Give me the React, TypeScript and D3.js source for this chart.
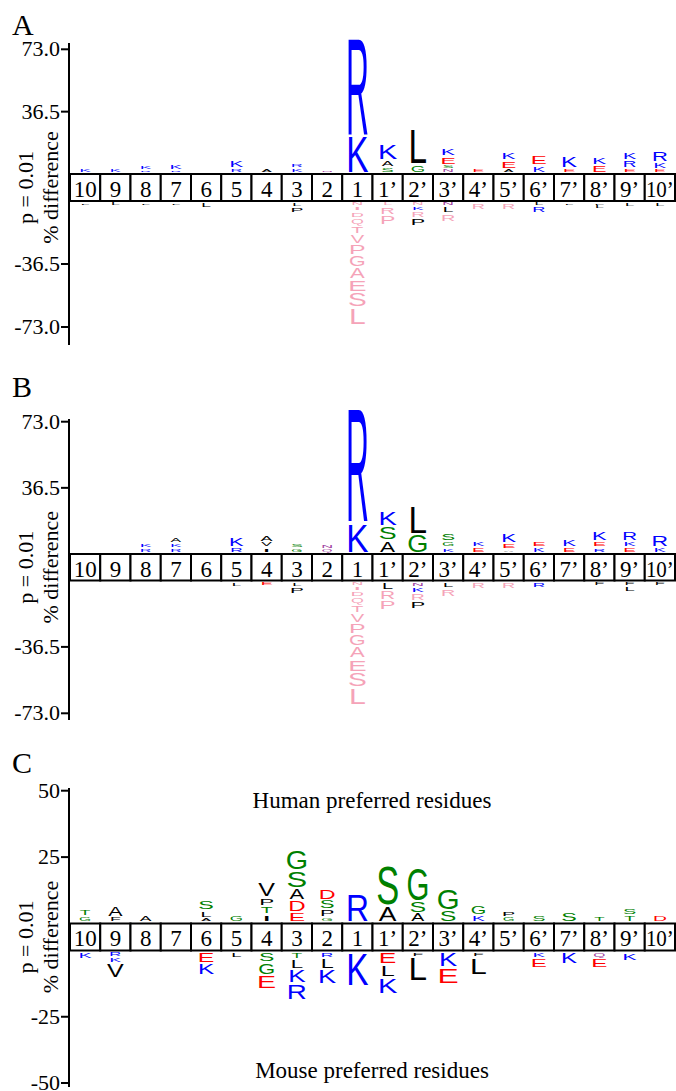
import * as d3 from 'd3';

type Res = [string, number, number?];

const positions = ['10', '9', '8', '7', '6', '5', '4', '3', '2', '1',
  '1’', '2’', '3’', '4’', '5’', '6’', '7’', '8’', '9’', '10’'];

const abTicks = [73.0, 36.5, -36.5, -73.0];
const cTicks = [50, 25, -25, -50];

// each position: residues read from top to bottom; third field 1 = flagged (pink) residue
const aUp: Res[][] = [
  [['K', 2.9]], [['K', 2.3]], [['K', 2.9], ['R', 1.7]], [['K', 3.5], ['R', 1.7]], [],
  [['K', 5.0], ['R', 2.9]], [['A', 2.9]], [['R', 2.9], ['K', 2.9]], [['N', 1.7]],
  [['R', 59], ['K', 22]],
  [['K', 9.8], ['A', 4.1], ['S', 3.5]], [['L', 21.4], ['G', 5.2]],
  [['K', 5.2], ['E', 5.2], ['S', 2.3], ['N', 2.3]], [['E', 2.3]],
  [['K', 5.2], ['E', 5.2], ['A', 2.3]], [['E', 5.8], ['K', 4.1]], [['K', 7.0], ['E', 2.9]],
  [['K', 5.2], ['E', 4.6]], [['K', 4.6], ['R', 4.6], ['E', 2.9]], [['R', 6.4], ['K', 4.1], ['E', 2.3]],
];
const aDown: Res[][] = [
  [['L', 1.7]], [['L', 2.0]], [['L', 1.7]], [['L', 1.7]], [['L', 3.1]], [], [],
  [['L', 2.6], ['P', 3.5]], [],
  [['N', 2.3, 1], ['I', 2.9, 1], ['D', 3.5, 1], ['Q', 4.1, 1], ['T', 5.2, 1], ['V', 5.8, 1],
    ['P', 6.4, 1], ['G', 7.0, 1], ['A', 7.0, 1], ['E', 7.5, 1], ['S', 8.7, 1], ['L', 10.4, 1]],
  [['L', 2.3, 1], ['R', 5.2, 1], ['P', 5.4, 1]], [['N', 2.0, 1], ['K', 2.9], ['R', 4.3, 1], ['P', 4.6]],
  [['N', 2.0], ['L', 4.1], ['R', 5.0, 1]], [['R', 4.1, 1]], [['R', 4.1, 1]], [['L', 2.0], ['R', 4.1]],
  [['L', 1.7]], [['F', 1.7], ['L', 2.0]], [['L', 2.6]], [['L', 2.6]],
];

const bUp: Res[][] = [
  [], [], [['K', 2.8], ['R', 2.4]], [['A', 2.9], ['K', 2.6], ['R', 2.4]], [],
  [['K', 5.4], ['R', 3.3]], [['A', 4.3], ['V', 2.9], ['I', 2.8]], [['S', 2.8], ['G', 2.4]],
  [['N', 2.4], ['Q', 2.2]],
  [['R', 64.7], ['K', 16.6]],
  [['K', 8.5], ['S', 7.6], ['A', 7.0]], [['L', 15.9], ['G', 10.3]],
  [['S', 4.4], ['G', 3.3], ['K', 2.8]], [['K', 3.5], ['E', 2.9]],
  [['K', 5.7], ['E', 3.5], ['A', 2.0]], [['E', 3.5], ['K', 2.9]], [['K', 4.8], ['E', 2.9]],
  [['K', 5.4], ['E', 3.3], ['R', 2.8]], [['R', 5.2], ['K', 3.5], ['E', 2.9]], [['R', 6.6], ['K', 3.3]],
];
const bDown: Res[][] = [
  [], [], [], [], [], [['L', 2.6]], [['E', 2.4]], [['L', 2.6], ['P', 4.0]], [],
  [['N', 2.2, 1], ['I', 2.8, 1], ['D', 3.3, 1], ['Q', 3.9, 1], ['T', 5.0, 1], ['V', 5.5, 1],
    ['P', 6.1, 1], ['G', 6.6, 1], ['A', 6.6, 1], ['E', 7.2, 1], ['S', 8.3, 1], ['L', 10.0, 1]],
  [['L', 4.3], ['R', 5.4, 1], ['P', 5.7, 1]], [['N', 2.6], ['K', 3.3], ['R', 4.5, 1], ['P', 4.6]],
  [['L', 3.5], ['R', 4.8, 1]], [['R', 3.9, 1]], [['R', 3.9, 1]], [['R', 3.3]],
  [], [['F', 2.2]], [['F', 2.2], ['L', 3.5]], [['F', 2.2]],
];

const cUp: Res[][] = [
  [['T', 2.5], ['G', 2.1]], [['A', 4.3], ['F', 2.0]], [['A', 2.7]], [],
  [['S', 3.9], ['L', 2.9], ['A', 1.5]], [['G', 2.7]],
  [['V', 5.8], ['P', 3.3], ['T', 3.3], ['I', 2.9]],
  [['G', 7.7], ['S', 6.7], ['A', 4.5], ['D', 4.5], ['E', 3.9]],
  [['D', 4.2], ['S', 3.5], ['P', 3.0], ['G', 1.9]],
  [['R', 10.9]],
  [['S', 15.3], ['A', 6.4]], [['G', 12.8], ['S', 4.5], ['A', 3.5]], [['G', 8.3], ['S', 4.5]],
  [['G', 3.9], ['K', 2.7]], [['P', 2.4], ['G', 2.0]], [['S', 2.7]], [['S', 3.9]], [['T', 2.3]],
  [['S', 2.7], ['T', 2.7]], [['D', 2.7]],
];
const cDown: Res[][] = [
  [['K', 2.7]], [['R', 2.0], ['K', 2.0], ['V', 5.8]], [], [],
  [['E', 4.0], ['K', 4.6]], [['L', 2.4]], [['S', 3.8], ['G', 4.7], ['E', 5.3]],
  [['T', 2.5], ['L', 3.8], ['K', 5.3], ['R', 6.4]], [['R', 2.3], ['L', 4.2], ['K', 5.7]],
  [['K', 12.9]],
  [['E', 4.5], ['L', 4.9], ['K', 6.4]], [['F', 1.9], ['L', 9.1]], [['K', 5.7], ['E', 6.4]],
  [['F', 1.9], ['L', 6.8]], [], [['K', 2.3], ['E', 3.8]], [['K', 4.5]], [['Q', 2.3], ['E', 3.8]],
  [['K', 3.4]], [],
];

const SANS = 'Liberation Sans, Arial, sans-serif';
const SERIF = 'Liberation Serif, Times New Roman, serif';

const ink: Record<string, number> = {
  A: 0.66, D: 0.6, E: 0.55, F: 0.5, G: 0.68, I: 0.1, K: 0.6, L: 0.48, N: 0.6,
  P: 0.56, Q: 0.7, R: 0.63, S: 0.58, T: 0.58, V: 0.66,
};
const narrow: Record<string, number> = { I: 0.3, L: 0.8, T: 0.9, F: 0.85 };

function colour(r: string, flagged?: number) {
  if (flagged) return '#f5a3b8';
  if ('KRH'.includes(r)) return '#0000ff';
  if ('DE'.includes(r)) return '#ff0000';
  if ('STGYC'.includes(r)) return '#008000';
  if ('NQ'.includes(r)) return '#a040a0';
  return '#000000';
}

const x = d3.scaleBand().domain(positions).range([70, 675]).padding(0);

function Stack({ items, cx, base, k, dir }: { items: Res[]; cx: number; base: number; k: number; dir: number }) {
  let y = base;
  const seq = dir < 0 ? [...items].reverse() : items;
  return (
    <g>
      {seq.map(([r, v, f], i) => {
        const s = v * k;
        const gh = s > 3.5 ? s - 2 : s * 0.55;
        const pad = (s - gh) / 2;
        const bottom = dir < 0 ? y - pad : y + pad + gh;
        const gw = Math.min(20, 8.5 + 0.6 * gh) * (narrow[r] ?? 1);
        const sx = gw / ((ink[r] ?? 0.6) * 100);
        const sy = gh / 71.6;
        y = dir < 0 ? y - s : y + s;
        return (
          <text key={i} transform={`translate(${cx},${bottom}) scale(${sx},${sy})`}
            fontSize={100} fontFamily={SANS} textAnchor="middle" fill={colour(r, f)}>{r}</text>
        );
      })}
    </g>
  );
}

type Panel = {
  id: string; up: Res[][]; down: Res[][]; max: number; ticks: number[]; dec: number;
  yTop: number; boxTop: number; boxBot: number; yBot: number; axisTop: number; axisBot: number; labelY: number;
  titles?: [string, number][];
};

const panels: Panel[] = [
  { id: 'A', up: aUp, down: aDown, max: 73, ticks: abTicks, dec: 1, yTop: 49.3, boxTop: 174, boxBot: 201,
    yBot: 327, axisTop: 43, axisBot: 345, labelY: 35 },
  { id: 'B', up: bUp, down: bDown, max: 73, ticks: abTicks, dec: 1, yTop: 421.7, boxTop: 554, boxBot: 580.5,
    yBot: 713.3, axisTop: 419, axisBot: 720, labelY: 397 },
  { id: 'C', up: cUp, down: cDown, max: 50, ticks: cTicks, dec: 0, yTop: 790.7, boxTop: 923.5, boxBot: 950.5,
    yBot: 1083, axisTop: 788, axisBot: 1087, labelY: 773,
    titles: [['Human preferred residues', 808], ['Mouse preferred residues', 1078]] },
];

function LogoPanel({ p }: { p: Panel }) {
  const yUp = d3.scaleLinear().domain([0, p.max]).range([p.boxTop, p.yTop]);
  const yDown = d3.scaleLinear().domain([0, -p.max]).range([p.boxBot, p.yBot]);
  const kUp = (p.boxTop - p.yTop) / p.max;
  const kDown = (p.yBot - p.boxBot) / p.max;
  const mid = (p.boxTop + p.boxBot) / 2;
  const bw = x.bandwidth();
  return (
    <g>
      <text x={12} y={p.labelY} fontSize={30} fontFamily={SERIF}>{p.id}</text>
      <line x1={69} x2={69} y1={p.axisTop} y2={p.axisBot} stroke="#000" strokeWidth={2} />
      {p.ticks.map((t) => {
        const ty = t > 0 ? yUp(t) : yDown(t);
        return (
          <g key={t}>
            <line x1={61} x2={69} y1={ty} y2={ty} stroke="#000" strokeWidth={2} />
            <text x={60} y={ty + 7} fontSize={22} fontFamily={SERIF} textAnchor="end">{t.toFixed(p.dec)}</text>
          </g>
        );
      })}
      <text transform={`translate(33,${mid}) rotate(-90)`} fontSize={22} fontFamily={SERIF} textAnchor="middle">p = 0.01</text>
      <text transform={`translate(58,${mid}) rotate(-90)`} fontSize={22} fontFamily={SERIF} textAnchor="middle">% difference</text>
      {(p.titles ?? []).map(([t, ty]) => (
        <text key={t} x={372} y={ty} fontSize={23} fontFamily={SERIF} textAnchor="middle">{t}</text>
      ))}
      {positions.map((pos, i) => (
        <g key={pos}>
          <rect x={x(pos)} y={p.boxTop} width={bw} height={p.boxBot - p.boxTop} fill="#fff" stroke="#000" strokeWidth={2} />
          <text x={(x(pos) ?? 0) + bw / 2} y={p.boxTop + 22.5} fontSize={23} fontFamily={SERIF} textAnchor="middle"
            {...(pos.length > 2 ? { textLength: 28, lengthAdjust: 'spacingAndGlyphs' } : {})}>{pos}</text>
          <Stack items={p.up[i]} cx={(x(pos) ?? 0) + bw / 2} base={p.boxTop - 1.5} k={kUp} dir={-1} />
          <Stack items={p.down[i]} cx={(x(pos) ?? 0) + bw / 2} base={p.boxBot + 1.5} k={kDown} dir={1} />
        </g>
      ))}
    </g>
  );
}

export default function App() {
  return (
    <svg width={676} height={1091} style={{ position: 'absolute', left: 0, top: 0, background: '#fff' }}>
      {panels.map((p) => <LogoPanel key={p.id} p={p} />)}
    </svg>
  );
}
